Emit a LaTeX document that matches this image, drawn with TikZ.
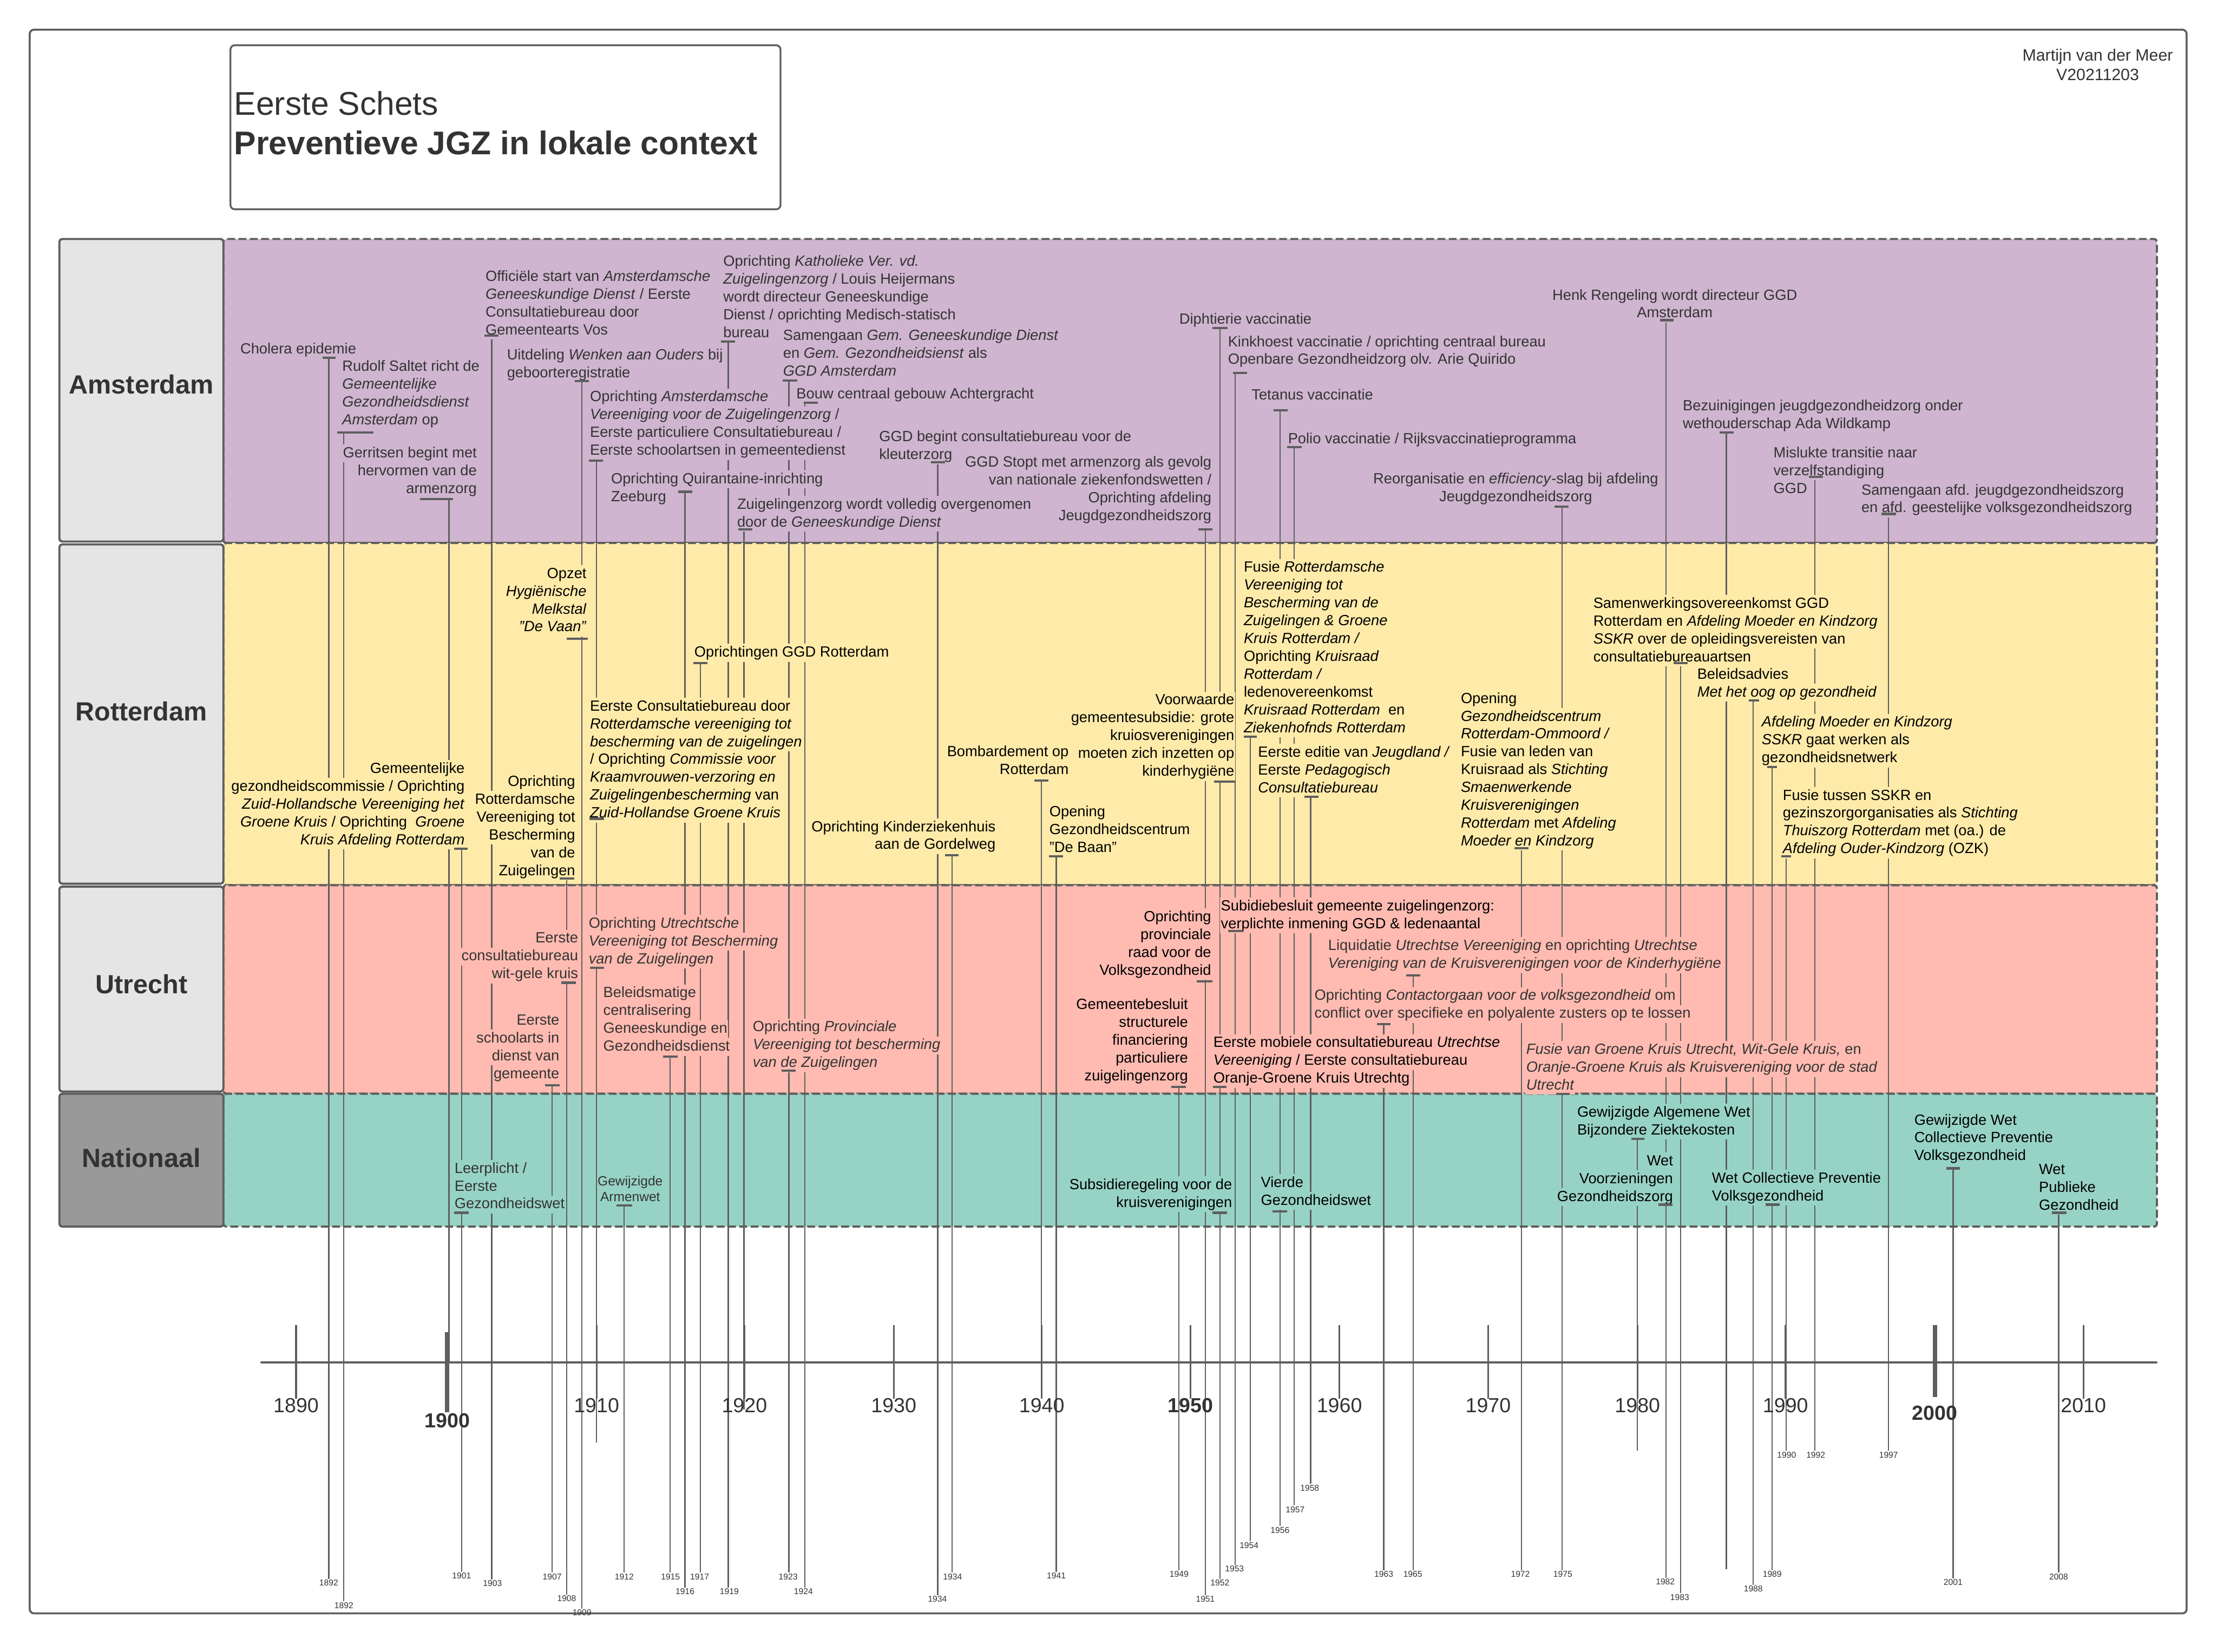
\documentclass[tikz,border=0pt]{standalone}
\usepackage{fontspec}
\setmainfont{Liberation Sans}
\usepackage{xcolor}
\definecolor{amsc}{HTML}{CFB5D0}
\definecolor{rotc}{HTML}{FFEBA9}
\definecolor{utrc}{HTML}{FFBBB1}
\definecolor{natc}{HTML}{97D3C5}
\definecolor{hdrc}{HTML}{E5E5E5}
\definecolor{hdrn}{HTML}{999999}
\definecolor{ln}{HTML}{5E5E5E}
\definecolor{txt}{HTML}{333333}
\colorlet{lanebg}{white}
\lineskiplimit=-100pt
\newcommand\evfont{\fontsize{10.45}{12.6}\selectfont}
\newcommand\lbg[1]{{\fboxsep=0pt\colorbox{lanebg}{\rule[-3.4pt]{0pt}{12.7pt}\kern0.6pt#1\kern0.6pt}}}
\newcommand\yrlab[4]{\node[yrlbl] (#1) at (#2,#3) {#4};}
\newcommand\tlev[6]{%
  \coordinate (b#1) at (#2,#3);
  \begin{pgfonlayer}{lines}\draw[evline] (b#1) -- (b#1 |- #6);\end{pgfonlayer}
  \begin{pgfonlayer}{fg}\draw[evbar] (#4,#3) -- (#5,#3);\end{pgfonlayer}}
\pgfdeclarelayer{bg}\pgfdeclarelayer{lines}\pgfdeclarelayer{fg}
\pgfsetlayers{bg,lines,main,fg}
\tikzset{
  ev/.style={font=\evfont, inner sep=0pt, yshift=5.6pt},
  evl/.style={ev, anchor=north west, align=left},
  evr/.style={ev, anchor=north east, align=right},
  evc/.style={ev, anchor=north, align=center},
  ams/.style={text=txt, execute at begin node={\colorlet{lanebg}{amsc}}},
  rot/.style={execute at begin node={\colorlet{lanebg}{rotc}}},
  utr/.style={execute at begin node={\colorlet{lanebg}{utrc}}},
  nat/.style={execute at begin node={\colorlet{lanebg}{natc}}},
  dk/.style={text=txt},
  evline/.style={draw=ln, line width=0.9pt},
  evbar/.style={draw=ln, line width=1.6pt},
  yrlbl/.style={font=\fontsize{6}{7}\selectfont, text=txt, inner sep=0.6pt},
  lane/.style={draw=ln, line width=1.5pt, dash pattern=on 5.5pt off 2.5pt, rounded corners=2pt},
  hdr/.style={draw=ln, line width=1.5pt, fill=hdrc, rounded corners=2pt},
  hdrtxt/.style={font=\fontsize{18.6}{22}\selectfont\bfseries, text=txt},
  decade/.style={font=\fontsize{14.4}{17}\selectfont, text=txt},
  tick/.style={draw=ln, line width=1.2pt}
}
\begin{document}
\begin{tikzpicture}[x=1pt,y=-1pt]
\useasboundingbox (0,0) rectangle (1568,1168);
\begin{pgfonlayer}{bg}
\fill[white] (0,0) rectangle (1568,1168);
\draw[ln, line width=1.4pt, rounded corners=3pt] (21,21) rectangle (1546.5,1141);
\draw[ln, line width=1.3pt, rounded corners=3pt] (163,32) rectangle (552,148);
\draw[lane, fill=amsc] (158,169) rectangle (1525.5,384);
\draw[lane, fill=rotc] (158,384) rectangle (1525.5,626);
\draw[lane, fill=utrc] (158,626) rectangle (1525.5,773.5);
\draw[lane, fill=natc] (158,773.5) rectangle (1525.5,867.5);
\draw[hdr] (42,169) rectangle (158,383);
\draw[hdr] (42,385) rectangle (158,625);
\draw[hdr] (42,627) rectangle (158,772);
\draw[hdr, fill=hdrn] (42,773.5) rectangle (158,867.5);
\end{pgfonlayer}
\node[hdrtxt] (hAms) at (100,272) {Amsterdam};
\node[hdrtxt] (hRot) at (100,503) {Rotterdam};
\node[hdrtxt] (hUtr) at (100,696) {Utrecht};
\node[hdrtxt] (hNat) at (100,819) {Nationaal};
\node[anchor=base west, inner sep=0pt, text=txt, font=\fontsize{23.2}{28}\selectfont] (title1) at (165.5,81.3) {Eerste Schets};
\node[anchor=base west, inner sep=0pt, text=txt, font=\fontsize{23.2}{28}\selectfont\bfseries] (title2) at (165.5,109.3) {Preventieve JGZ in lokale context};
\node[anchor=base, inner sep=0pt, text=txt, font=\fontsize{11.6}{14}\selectfont] (auth) at (1483.6,43.1) {Martijn van der Meer};
\node[anchor=base, inner sep=0pt, text=txt, font=\fontsize{11.6}{14}\selectfont] (vers) at (1483.6,57) {V20211203};

% tijdlijn
\draw[ln, line width=1.8pt, line cap=round] (185,963.5) coordinate (ax1) -- (1525,963.5) coordinate (ax2);
\foreach \yy/\xx in {1890/209.4,1910/421.9,1920/526.5,1930/632.1,1940/736.8,1960/947.3,1970/1052.5,1980/1158.1,1990/1262.8,2010/1473.5}{
  \draw[tick] (\xx,937) -- (\xx,989);
  \node[decade] (d\yy) at (\xx,994) {\yy};
}
\draw[tick] (842,937) -- (842,989);
\draw[tick, line width=3pt] (316.3,942) -- (316.3,998.6);
\draw[tick, line width=3pt] (1368.4,937) -- (1368.4,988);
\node[decade, font=\fontsize{14.4}{17}\selectfont\bfseries] (d1950) at (842,994) {1950};
\node[decade, font=\fontsize{14.4}{17}\selectfont\bfseries] (d1900) at (316.3,1004.6) {1900};
\node[decade, font=\fontsize{14.4}{17}\selectfont\bfseries] (d2000) at (1368.4,999.3) {2000};

\yrlab{y1892a}{232.5}{1119.5}{1892}
\yrlab{y1892b}{243.2}{1135.4}{1892}
\yrlab{y1901}{326.5}{1114.5}{1901}
\yrlab{y1903}{348.3}{1119.8}{1903}
\yrlab{y1907}{390.5}{1115}{1907}
\yrlab{y1908}{400.8}{1130.5}{1908}
\yrlab{y1909}{411.6}{1140.5}{1909}
\yrlab{y1912}{441.5}{1115}{1912}
\yrlab{y1915}{474.2}{1115}{1915}
\yrlab{y1916}{484.5}{1125.6}{1916}
\yrlab{y1917}{494.8}{1115}{1917}
\yrlab{y1919}{515.8}{1125.6}{1919}
\yrlab{y1923}{557.4}{1115}{1923}
\yrlab{y1924}{568.2}{1125.6}{1924}
\yrlab{y1934a}{663}{1130.9}{1934}
\yrlab{y1934b}{673.7}{1115}{1934}
\yrlab{y1941}{747.1}{1114.5}{1941}
\yrlab{y1949}{833.9}{1113.4}{1949}
\yrlab{y1951}{852.5}{1130.9}{1951}
\yrlab{y1952}{862.8}{1119.5}{1952}
\yrlab{y1953}{873.1}{1109.6}{1953}
\yrlab{y1954}{883.4}{1092.9}{1954}
\yrlab{y1956}{905.3}{1082.2}{1956}
\yrlab{y1957}{916}{1067.5}{1957}
\yrlab{y1958}{926.3}{1052.2}{1958}
\yrlab{y1963}{978.7}{1113.4}{1963}
\yrlab{y1965}{999.2}{1113.4}{1965}
\yrlab{y1972}{1075.3}{1113.4}{1972}
\yrlab{y1975}{1105.3}{1113.4}{1975}
\yrlab{y1982}{1177.8}{1118.7}{1982}
\yrlab{y1983}{1188}{1129.7}{1983}
\yrlab{y1988}{1240}{1123.7}{1988}
\yrlab{y1989}{1253.4}{1113.4}{1989}
\yrlab{y1990}{1263.6}{1029}{1990}
\yrlab{y1992}{1284.2}{1029}{1992}
\yrlab{y1997}{1335.7}{1029}{1997}
\yrlab{y2001}{1381.3}{1119}{2001}
\yrlab{y2008}{1456}{1115}{2008}
\coordinate (t1900) at (316.3,963.5);
\coordinate (t1910) at (421.9,1020);
\coordinate (t1920) at (526.5,997);
\coordinate (t1940) at (736.8,963.5);
\coordinate (t1980) at (1158.1,1026);
\coordinate (e1986) at (1221,1109.6);

\tlev{a1}{232.5}{253.1}{228}{237.5}{y1892a.north}
\tlev{a2}{243.2}{305.8}{238.3}{264.1}{y1892b.north}
\tlev{a3}{317.6}{353.1}{297}{320.4}{t1900}
\tlev{a4}{347.8}{237.4}{342.6}{352.6}{y1903.north}
\tlev{a5}{411.4}{269.5}{406.5}{416.5}{y1909.north}
\tlev{a6}{515}{241.6}{509.9}{520}{y1919.north}
\tlev{a7}{558}{269}{553.7}{564}{y1923.north}
\tlev{a8}{569.2}{284.8}{568.6}{578.6}{y1924.north}
\tlev{a9}{421.9}{325.7}{416.5}{426.5}{t1910}
\tlev{a10}{484.4}{347.8}{479.5}{489.5}{y1916.north}
\tlev{a11}{526.2}{374.3}{522}{532.1}{t1920}
\tlev{a12}{663.2}{326.9}{658.4}{668.4}{y1934a.north}
\tlev{a13}{852.6}{374.3}{847.6}{857.6}{y1951.north}
\tlev{a14}{862.9}{232.1}{857.6}{868.3}{y1952.north}
\tlev{a15}{873.5}{263.6}{871.9}{882}{y1953.north}
\tlev{a16}{905.3}{290.1}{900.8}{910.6}{y1956.north}
\tlev{a17}{915.2}{316.3}{910.2}{920.6}{y1957.north}
\tlev{a18}{1104.8}{358.3}{1099.4}{1109.4}{y1975.north}
\tlev{a19}{1178.2}{226.4}{1174}{1183.7}{y1982.north}
\tlev{a20}{1221}{305.8}{1216}{1226.3}{e1986}
\tlev{a21}{1283.6}{337.2}{1279.2}{1289.4}{y1992.north}
\tlev{a22}{1335.6}{363.5}{1330.5}{1340.8}{y1997.north}
\tlev{r1}{411.4}{451.8}{400.8}{415.6}{y1909.north}
\tlev{r2}{495.3}{468.8}{490.3}{500.3}{y1917.north}
\tlev{r3}{421.9}{579}{417}{427.4}{t1910}
\tlev{r4}{326.5}{600.3}{321.1}{330.9}{y1901.north}
\tlev{r5}{400.8}{621.3}{395.8}{406.2}{y1908.north}
\tlev{r6}{673.3}{604.7}{668.4}{678.1}{y1934b.north}
\tlev{r7}{736.6}{552.1}{731.4}{741.4}{t1940}
\tlev{r8}{747}{605.5}{742}{752}{y1941.north}
\tlev{r9}{873.5}{552.8}{858.5}{873.7}{y1953.north}
\tlev{r10}{884.2}{520.9}{879.5}{888.7}{y1954.north}
\tlev{r11}{927}{563.4}{922.4}{932.5}{y1958.north}
\tlev{r12}{1076}{600}{1071.1}{1081}{y1972.north}
\tlev{r13}{1188.6}{468.8}{1183.7}{1193.6}{y1983.north}
\tlev{r14}{1240}{495.2}{1236.9}{1244.2}{y1988.north}
\tlev{r15}{1253.4}{542.4}{1249.9}{1256.8}{y1989.north}
\tlev{r16}{1263.3}{605.5}{1259.8}{1266.7}{y1990.north}
\tlev{u1}{400.8}{695}{397}{407.4}{y1908.north}
\tlev{u2}{390.5}{767.5}{385.5}{395.8}{y1907.north}
\tlev{u3}{421.9}{684.5}{417.1}{427.4}{t1910}
\tlev{u4}{473.8}{747.3}{468.8}{479.1}{y1915.north}
\tlev{u5}{558}{757.1}{552.9}{562.6}{y1923.north}
\tlev{u6}{852.6}{694}{846.3}{857.4}{y1951.north}
\tlev{u7}{833.8}{768.7}{828.4}{838.6}{y1949.north}
\tlev{u8}{873.5}{658.3}{868.5}{879.2}{y1953.north}
\tlev{u9}{999.4}{689.8}{994.6}{1004.3}{y1965.north}
\tlev{u10}{978.7}{724.3}{973.9}{983.5}{y1963.north}
\tlev{u11}{862.9}{768.7}{857.9}{867.6}{y1952.north}
\tlev{u12}{1104.8}{773.7}{1100.4}{1110}{y1975.north}
\tlev{n1}{326.5}{857.7}{321.2}{331.5}{y1901.north}
\tlev{n2}{441.5}{852.4}{436.2}{447.3}{y1912.north}
\tlev{n3}{862.9}{857.7}{857.4}{867.7}{y1952.north}
\tlev{n4}{905.3}{856.6}{899.9}{910.2}{y1956.north}
\tlev{n5}{1158.1}{805.3}{1153.6}{1163}{t1980}
\tlev{n6}{1178.2}{851.9}{1172.8}{1182.7}{y1982.north}
\tlev{n7}{1253.4}{851.9}{1248.9}{1258.7}{y1989.north}
\tlev{n8}{1381.3}{826.3}{1376.4}{1386.2}{y2001.north}
\tlev{n9}{1456}{857.7}{1451.1}{1461.4}{y2008.north}

% Amsterdam
\node[evl,ams] (a1) at (169.2,246.3) {\lbg{Cholera epidemie}};
\node[evl,ams] (a2) at (241.3,258.6) {\lbg{Rudolf Saltet richt de}\\\lbg{\textit{Gemeentelijke}}\\\lbg{\textit{Gezondheidsdienst}}\\\lbg{\textit{Amsterdam} op}};
\node[evr,ams] (a3) at (338,319.8) {\lbg{Gerritsen begint met}\\\lbg{hervormen van de}\\\lbg{armenzorg}};
\node[evl,ams] (a4) at (342.6,194.9) {\lbg{Officiële start van \textit{Amsterdamsche}}\\\lbg{\textit{Geneeskundige Dienst} / Eerste}\\\lbg{Consultatiebureau door}\\\lbg{Gemeentearts Vos}};
\node[evl,ams] (a5) at (357.8,250.5) {\lbg{Uitdeling \textit{Wenken aan Ouders} bij}\\\lbg{geboorteregistratie}};
\node[evl,ams] (a6) at (510.8,184.2) {\lbg{Oprichting \textit{Katholieke Ver. vd.}}\\\lbg{\textit{Zuigelingenzorg} / Louis Heijermans}\\\lbg{wordt directeur Geneeskundige}\\\lbg{Dienst / oprichting Medisch-statisch}\\\lbg{bureau}};
\node[evl,ams] (a7) at (553.1,236.8) {\lbg{Samengaan \textit{Gem. Geneeskundige Dienst}}\\\lbg{en \textit{Gem. Gezondheidsienst} als}\\\lbg{\textit{GGD Amsterdam}}};
\node[evl,ams] (a8) at (562.5,277.9) {\lbg{Bouw centraal gebouw Achtergracht}};
\node[evl,ams] (a9) at (416.5,280.1) {\lbg{Oprichting \textit{Amsterdamsche}}\\\lbg{\textit{Vereeniging voor de Zuigelingenzorg} /}\\\lbg{Eerste particuliere Consultatiebureau /}\\\lbg{Eerste schoolartsen in gemeentedienst}};
\node[evl,ams] (a10) at (431.4,338) {\lbg{Oprichting Quirantaine-inrichting}\\\lbg{Zeeburg}};
\node[evl,ams] (a11) at (520.6,356) {\lbg{Zuigelingenzorg wordt volledig overgenomen}\\\lbg{door de \textit{Geneeskundige Dienst}}};
\node[evl,ams] (a12) at (621,308.4) {\lbg{GGD begint consultatiebureau voor de}\\\lbg{kleuterzorg}};
\node[evr,ams] (a13) at (857.6,326.3) {\lbg{GGD Stopt met armenzorg als gevolg}\\\lbg{van nationale ziekenfondswetten /}\\\lbg{Oprichting afdeling}\\\lbg{Jeugdgezondheidszorg}};
\node[evl,ams] (a14) at (833.3,225.2) {\lbg{Diphtierie vaccinatie}};
\node[evl,ams] (a15) at (867.7,241.1) {\lbg{Kinkhoest vaccinatie / oprichting centraal bureau}\\\lbg{Openbare Gezondheidzorg olv. Arie Quirido}};
\node[evl,ams] (a16) at (884.4,278.9) {\lbg{Tetanus vaccinatie}};
\node[evl,ams] (a17) at (910.2,309.8) {\lbg{Polio vaccinatie / Rijksvaccinatieprogramma}};
\node[evc,ams] (a18) at (1072,338) {\lbg{Reorganisatie en \textit{efficiency}-slag bij afdeling}\\\lbg{Jeugdgezondheidszorg}};
\node[evc,ams] (a19) at (1184.5,208.2) {\lbg{Henk Rengeling wordt directeur GGD}\\\lbg{Amsterdam}};
\node[evl,ams] (a20) at (1189.4,286.6) {\lbg{Bezuinigingen jeugdgezondheidzorg onder}\\\lbg{wethouderschap Ada Wildkamp}};
\node[evl,ams] (a21) at (1253.5,319.7) {\lbg{Mislukte transitie naar}\\\lbg{verzelfstandiging}\\\lbg{GGD}};
\node[evl,ams] (a22) at (1315.7,346) {\lbg{Samengaan afd. jeugdgezondheidszorg}\\\lbg{en afd. geestelijke volksgezondheidszorg}};

% Rotterdam
\node[evr,rot] (r1) at (415.6,405) {\lbg{Opzet}\\\lbg{\textit{Hygiënische}}\\\lbg{\textit{Melkstal}}\\\lbg{\textit{"De Vaan"}}};
\node[evl,rot] (r2) at (490.3,460.7) {\lbg{Oprichtingen GGD Rotterdam}};
\node[evl,rot] (r3) at (416.5,498.8) {\lbg{Eerste Consultatiebureau door}\\\lbg{\textit{Rotterdamsche vereeniging tot}}\\\lbg{\textit{bescherming van de zuigelingen}}\\\lbg{/ Oprichting \textit{Commissie voor}}\\\lbg{\textit{Kraamvrouwen-verzoring en}}\\\lbg{\textit{Zuigelingenbescherming} van}\\\lbg{\textit{Zuid-Hollandse Groene Kruis}}};
\node[evr,rot] (r4) at (329.4,542.9) {\lbg{Gemeentelijke}\\\lbg{gezondheidscommissie / Oprichting}\\\lbg{\textit{Zuid-Hollandsche Vereeniging het}}\\\lbg{\textit{Groene Kruis} / Oprichting\ \ \textit{Groene}}\\\lbg{\textit{Kruis Afdeling Rotterdam}}};
\node[evr,rot] (r5) at (407.6,552.2) {\lbg{Oprichting}\\\lbg{Rotterdamsche}\\\lbg{Vereeniging tot}\\\lbg{Bescherming}\\\lbg{van de}\\\lbg{Zuigelingen}};
\node[evr,rot] (r6) at (704.9,584.1) {\lbg{Oprichting Kinderziekenhuis}\\\lbg{aan de Gordelweg}};
\node[evr,rot] (r7) at (756.6,531.2) {\lbg{Bombardement op}\\\lbg{Rotterdam}};
\node[evl,rot] (r8) at (741.4,573.6) {\lbg{Opening}\\\lbg{Gezondheidscentrum}\\\lbg{"De Baan"}};
\node[evr,rot] (r9) at (873.7,494.5) {\lbg{Voorwaarde}\\\lbg{gemeentesubsidie: grote}\\\lbg{kruiosverenigingen}\\\lbg{moeten zich inzetten op}\\\lbg{kinderhygiëne}};
\node[evl,rot] (r10) at (878.9,400.7) {\lbg{Fusie \textit{Rotterdamsche}}\\\lbg{\textit{Vereeniging tot}}\\\lbg{\textit{Bescherming van de}}\\\lbg{\textit{Zuigelingen \& Groene}}\\\lbg{\textit{Kruis Rotterdam /}}\\\lbg{Oprichting \textit{Kruisraad}}\\\lbg{\textit{Rotterdam /}}\\\lbg{ledenovereenkomst}\\\lbg{\textit{Kruisraad Rotterdam}\ \ en}\\\lbg{\textit{Ziekenhofnds Rotterdam}}};
\node[evl,rot] (r11) at (889,531.5) {\lbg{Eerste editie van \textit{Jeugdland /}}\\\lbg{Eerste \textit{Pedagogisch}}\\\lbg{\textit{Consultatiebureau}}};
\node[evl,rot] (r12) at (1032.4,493.4) {\lbg{Opening}\\\lbg{\textit{Gezondheidscentrum}}\\\lbg{\textit{Rotterdam-Ommoord /}}\\\lbg{Fusie van leden van}\\\lbg{Kruisraad als \textit{Stichting}}\\\lbg{\textit{Smaenwerkende}}\\\lbg{\textit{Kruisverenigingen}}\\\lbg{\textit{Rotterdam} met \textit{Afdeling}}\\\lbg{\textit{Moeder en Kindzorg}}};
\node[evl,rot] (r13) at (1126.1,426.1) {\lbg{Samenwerkingsovereenkomst GGD}\\\lbg{Rotterdam en \textit{Afdeling Moeder en Kindzorg}}\\\lbg{\textit{SSKR} over de opleidingsvereisten van}\\\lbg{consultatiebureauartsen}};
\node[evl,rot] (r14) at (1199.6,476.3) {\lbg{Beleidsadvies}\\\lbg{\textit{Met het oog op gezondheid}}};
\node[evl,rot] (r15) at (1245.2,510.2) {\lbg{\textit{Afdeling Moeder en Kindzorg}}\\\lbg{\textit{SSKR} gaat werken als}\\\lbg{gezondheidsnetwerk}};
\node[evl,rot] (r16) at (1260.1,561.9) {\lbg{Fusie tussen SSKR en}\\\lbg{gezinszorgorganisaties als \textit{Stichting}}\\\lbg{\textit{Thuiszorg Rotterdam} met (oa.) de}\\\lbg{\textit{Afdeling Ouder-Kindzorg} (OZK)}};

% Utrecht
\node[evr,utr,dk] (u1) at (409.7,662.9) {\lbg{Eerste}\\\lbg{consultatiebureau}\\\lbg{wit-gele kruis}};
\node[evr,utr,dk] (u2) at (396.4,720.9) {\lbg{Eerste}\\\lbg{schoolarts in}\\\lbg{dienst van}\\\lbg{gemeente}};
\node[evl,utr,dk] (u3) at (415.6,652.3) {\lbg{Oprichting \textit{Utrechtsche}}\\\lbg{\textit{Vereeniging tot Bescherming}}\\\lbg{\textit{van de Zuigelingen}}};
\node[evl,utr,dk] (u4) at (425.9,701.6) {\lbg{Beleidsmatige}\\\lbg{centralisering}\\\lbg{Geneeskundige en}\\\lbg{Gezondheidsdienst}};
\node[evl,utr,dk] (u5) at (531.6,725.7) {\lbg{Oprichting \textit{Provinciale}}\\\lbg{\textit{Vereeniging tot bescherming}}\\\lbg{\textit{van de Zuigelingen}}};
\node[evr,utr] (u6) at (857.4,647.9) {\lbg{Oprichting}\\\lbg{provinciale}\\\lbg{raad voor de}\\\lbg{Volksgezondheid}};
\node[evr,utr] (u7) at (841,709.8) {\lbg{Gemeentebesluit}\\\lbg{structurele}\\\lbg{financiering}\\\lbg{particuliere}\\\lbg{zuigelingenzorg}};
\node[evl,utr] (u8) at (862.7,640.2) {\lbg{Subidiebesluit gemeente zuigelingenzorg:}\\\lbg{verplichte inmening GGD \& ledenaantal}};
\node[evl,utr,dk] (u9) at (938.6,668.2) {\lbg{Liquidatie \textit{Utrechtse Vereeniging} en oprichting \textit{Utrechtse}}\\\lbg{\textit{Vereniging van de Kruisverenigingen voor de Kinderhygiëne}}};
\node[evl,utr,dk] (u10) at (928.9,703.5) {\lbg{Oprichting \textit{Contactorgaan voor de volksgezondheid} om}\\\lbg{conflict over specifieke en polyalente zusters op te lossen}};
\node[evl,utr] (u11) at (857.4,736.8) {\lbg{Eerste mobiele consultatiebureau \textit{Utrechtse}}\\\lbg{\textit{Vereeniging} / Eerste consultatiebureau}\\\lbg{Oranje-Groene Kruis Utrechtg}};
\node[evl,utr,dk] (u12) at (1078.7,741.7) {\lbg{\textit{Fusie van Groene Kruis Utrecht, Wit-Gele Kruis,} en}\\\lbg{\textit{Oranje-Groene Kruis als Kruisvereniging voor de stad}}\\\lbg{\textit{Utrecht}}};

% Nationaal
\node[evl,nat,dk] (n1) at (320.7,825.7) {\lbg{Leerplicht /}\\\lbg{Eerste}\\\lbg{Gezondheidswet}};
\node[anchor=north, align=center, inner sep=0pt, yshift=3.4pt, text=txt, font=\fontsize{9.4}{11.2}\selectfont] (n2) at (445.7,834.9) {Gewijzigde\\Armenwet};
\node[evr,nat] (n3) at (872.2,837.2) {\lbg{Subsidieregeling voor de}\\\lbg{kruisverenigingen}};
\node[evl,nat] (n4) at (891,835.8) {\lbg{Vierde}\\\lbg{Gezondheidswet}};
\node[evl,nat] (n5) at (1114.7,786) {\lbg{Gewijzigde Algemene Wet}\\\lbg{Bijzondere Ziektekosten}};
\node[evr,nat] (n6) at (1184,820.5) {\lbg{Wet}\\\lbg{Voorzieningen}\\\lbg{Gezondheidszorg}};
\node[evl,nat] (n7) at (1210,832.6) {\lbg{Wet Collectieve Preventie}\\\lbg{Volksgezondheid}};
\node[evl,nat] (n8) at (1353.1,791.6) {\lbg{Gewijzigde Wet}\\\lbg{Collectieve Preventie}\\\lbg{Volksgezondheid}};
\node[evl,nat] (n9) at (1441.3,826.5) {\lbg{Wet}\\\lbg{Publieke}\\\lbg{Gezondheid}};
\end{tikzpicture}
\end{document}
